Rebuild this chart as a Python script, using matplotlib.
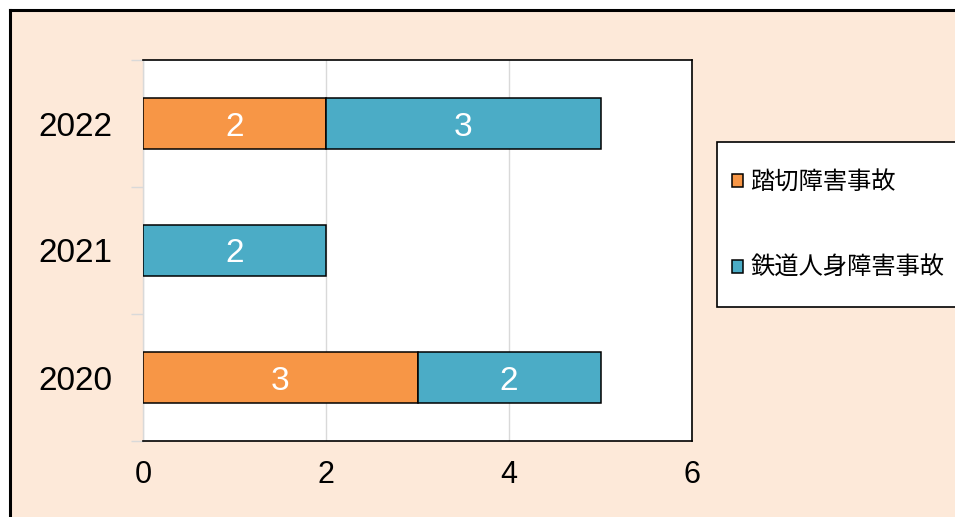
#! /usr/bin/env python3
import numpy as np
import matplotlib
matplotlib.use('Agg')
from matplotlib import patches, lines, pyplot as plt
from matplotlib.ticker import FixedLocator, NullFormatter

plt.rcParams['font.family'] = ['Liberation Sans', 'Noto Sans CJK JP', 'DejaVu Sans']

# Chart data
years = ['2020', '2021', '2022']
crossing = [3, 0, 2]          # 踏切障害事故
injury = [2, 2, 3]            # 鉄道人身障害事故
series_names = ['踏切障害事故', '鉄道人身障害事故']
x_ticks = [0, 2, 4, 6]

orange = '#F79646'
teal = '#4BACC6'
bg = '#FDE9D9'

W, H = 955, 517
fig = plt.figure(figsize=(W / 100, H / 100), dpi=100)
fig.patch.set_facecolor('white')

# Peach chart area with a black border on the left and top (rest is cropped)
bx, by = 9.5 / W, 1 - 9.5 / H
fig.patches.append(patches.Rectangle((bx, 0), 1 - bx, by, transform=fig.transFigure,
                                     facecolor=bg, edgecolor='none', zorder=-2))
fig.lines.append(lines.Line2D([bx, bx], [0, by], transform=fig.transFigure,
                              color='black', linewidth=2.2, solid_capstyle='projecting'))
fig.lines.append(lines.Line2D([bx, 1], [by, by], transform=fig.transFigure,
                              color='black', linewidth=2.2, solid_capstyle='projecting'))

ax = fig.add_axes([143 / W, 76 / H, 549 / W, 381 / H])
ax.set_facecolor('white')

y = np.arange(len(years))
h = 0.394
b1 = ax.barh(y, crossing, height=h, color=orange, edgecolor='black', linewidth=1.1,
             label=series_names[0], zorder=3)
b2 = ax.barh(y, injury, left=crossing, height=h, color=teal, edgecolor='black',
             linewidth=1.1, label=series_names[1], zorder=3)

# Value labels inside the segments
for bars, vals in ((b1, crossing), (b2, injury)):
    for rect, v in zip(bars, vals):
        if v == 0:
            continue
        ax.text(rect.get_x() + rect.get_width() / 2, rect.get_y() + rect.get_height() / 2,
                str(v), color='white', ha='center', va='center_baseline',
                fontsize=24, zorder=4)

ax.set_xlim(0, 6)
ax.set_ylim(-0.5, 2.5)
ax.set_xticks(x_ticks)
ax.set_xticklabels([str(t) for t in x_ticks], fontsize=22)
ax.tick_params(axis='x', length=0, pad=14)
ax.grid(axis='x', color='#D9D9D9', linewidth=1, zorder=0)

# Category boundaries as major ticks, labels on minor ticks
ax.yaxis.set_major_locator(FixedLocator([-0.5, 0.5, 1.5, 2.5]))
ax.yaxis.set_major_formatter(NullFormatter())
ax.yaxis.set_minor_locator(FixedLocator(y))
ax.set_yticklabels(years, minor=True, fontsize=24)
ax.tick_params(axis='y', which='major', length=9, color='#D9D9D9', width=1)
ax.tick_params(axis='y', which='minor', length=0, pad=22)

for side in ('top', 'right', 'bottom'):
    ax.spines[side].set_color('black')
    ax.spines[side].set_linewidth(1.2)
ax.spines['left'].set_color('#D9D9D9')
ax.spines['left'].set_linewidth(1)

# Legend box running off the right edge
fig.patches.append(patches.Rectangle((717 / W, 1 - 307 / H), 0.4, 165 / H,
                                     transform=fig.transFigure, facecolor='white',
                                     edgecolor='black', linewidth=1.2, zorder=1))
leg = fig.legend(handles=[b1, b2], loc='center left',
                 bbox_to_anchor=(732 / W, 1 - 225 / H), frameon=False,
                 prop={'family': ['Noto Sans CJK JP', 'DejaVu Sans'], 'size': 17.5},
                 handlelength=0.45, handleheight=0.45, handletextpad=0.3,
                 labelspacing=2.45, borderpad=0, borderaxespad=0)
leg.set_zorder(5)

fig.savefig('out.png', dpi=100, facecolor='white')
